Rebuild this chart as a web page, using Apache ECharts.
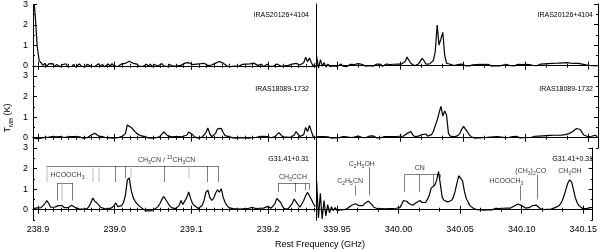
<!DOCTYPE html>
<html><head><meta charset="utf-8">
<script src="https://cdn.jsdelivr.net/npm/echarts@6/dist/echarts.min.js"></script>
<style>html,body{margin:0;padding:0;background:#fff}#c{width:600px;height:250px}</style>
</head><body><div id="c"></div>
<script>
// ---------- frequency channels ----------
const leftStart = 238.894, leftStep = 0.0025;     // GHz
const rightStart = 339.9335, rightStep = 0.0015;  // GHz
const leftRange = [238.8935, 239.2625];
const rightRange = [339.9330, 340.1576];
const leftTicks = [238.9, 239.0, 239.1, 239.2];
const rightTicks = [339.95, 340.00, 340.05, 340.10, 340.15];
const yTickLabels = [0, 1, 2, 3];
const sourceNames = ['IRAS20126+4104', 'IRAS18089-1732', 'G31.41+0.31'];

// ---------- spectra (T_MB in K) ----------
const iras20126Left = [3.6,2.4,0.95,0.25,0.15,0.02,0.12,-0.03,0.09,0.0,
0.11,-0.04,0.06,0.1,-0.05,0.05,0.0,0.1,-0.04,0.04,
-0.03,0.07,-0.06,0.03,0.09,-0.02,0.06,-0.05,0.07,0.1,
-0.01,0.08,-0.04,0.05,0.1,-0.03,0.07,-0.05,0.04,0.09,
-0.01,0.1,0.0,0.07,-0.04,0.05,0.09,0.01,0.12,0.16,
0.22,0.15,0.12,0.03,0.08,-0.02,0.07,-0.03,0.05,0.08,
-0.02,0.08,-0.05,0.06,0.1,-0.01,0.07,0.11,0.0,0.08,
-0.04,0.06,0.1,-0.01,0.07,0.0,0.09,0.02,0.11,0.13,
0.17,0.15,0.13,0.06,0.0,0.08,0.01,0.1,0.03,0.12,
0.05,0.01,0.1,0.04,0.12,0.13,0.19,0.21,0.16,0.13,
0.04,-0.01,0.07,-0.04,0.05,-0.01,0.08,-0.03,0.04,0.07,
-0.02,0.08,0.0,0.09,0.07,0.13,0.06,0.02,-0.02,0.07,
-0.03,0.05,0.08,-0.02,0.07,-0.03,0.04,0.09,0.01,-0.01,
0.07,0.0,0.08,0.02,0.1,0.08,0.14,0.12,0.12,0.04,
0.07,0.15,0.42,0.2,0.38,0.15,-0.02,0.12];
const iras20126Right = [0.45,-0.12,0.3,-0.02,0.15,-0.06,0.08,-0.03,0.06,-0.01,
0.07,-0.03,0.05,0.08,-0.02,0.06,-0.04,0.05,0.07,-0.01,
0.06,0.09,0.1,0.04,0.07,0.02,-0.02,0.06,0.0,0.07,
-0.02,0.06,0.08,-0.01,0.07,-0.03,0.05,0.08,0.0,0.06,
-0.02,0.07,0.01,0.08,0.03,0.08,0.1,0.2,0.42,0.35,
0.12,0.04,0.0,0.07,0.08,0.15,0.36,0.25,0.08,0.03,
0.09,0.12,0.25,0.7,1.98,1.0,0.95,1.62,0.5,0.12,
0.04,0.07,0.05,0.01,0.07,0.05,0.1,0.08,0.06,0.0,
0.07,-0.01,0.06,0.04,-0.02,0.06,0.01,0.07,-0.02,0.05,
0.0,0.07,0.01,-0.02,0.06,0.0,0.07,-0.01,0.05,0.03,
-0.02,0.05,0.07,0.0,0.06,-0.01,0.05,0.07,0.0,0.06,
0.01,0.07,0.0,0.06,0.08,0.01,0.07,0.0,0.06,0.08,
0.02,0.09,0.04,0.1,0.05,0.11,0.06,0.12,0.07,0.13,
0.08,0.14,0.09,0.15,0.13,0.12,0.17,0.11,0.16,0.11,
0.12,0.08,0.1,0.04,0.07,0.01,0.06,0.0,0.05,-0.01];
const iras18089Left = [-0.02,0.05,-0.04,0.04,-0.02,0.06,0.02,0.09,0.03,-0.01,
0.05,-0.03,0.04,-0.02,0.06,0.07,0.01,-0.02,0.04,-0.04,
0.05,-0.01,0.06,-0.03,0.04,0.07,-0.02,0.05,0.0,0.08,
0.12,0.2,0.22,0.14,0.08,0.03,0.05,0.07,0.0,0.06,
-0.01,0.05,-0.02,0.06,0.0,-0.03,0.05,0.04,0.2,0.62,
0.66,0.5,0.4,0.3,0.2,0.15,0.1,0.04,0.05,0.03,
-0.01,0.05,-0.02,0.06,0.0,0.07,0.06,0.15,0.28,0.22,
0.1,0.03,0.04,-0.02,0.05,-0.01,0.06,0.0,0.07,0.06,
0.12,0.28,0.33,0.15,0.04,0.05,-0.02,0.04,0.03,0.1,
0.25,0.47,0.2,0.05,0.08,0.2,0.43,0.35,0.45,0.25,
0.1,0.02,0.05,0.03,-0.01,0.05,-0.02,0.06,0.0,0.07,
-0.01,0.05,-0.02,0.06,0.0,0.07,0.01,-0.02,0.06,0.0,
0.07,-0.01,0.05,0.07,0.0,0.06,0.05,0.12,0.25,0.15,
0.04,0.05,0.03,0.04,0.02,0.08,0.12,0.3,0.18,0.06,
0.03,0.15,0.5,0.3,0.6,0.3,0.05,0.02];
const iras18089Right = [0.05,-0.02,0.06,-0.01,0.05,-0.03,0.04,0.06,-0.02,0.05,
-0.01,0.06,0.0,-0.03,0.05,-0.02,0.04,0.07,0.01,0.08,
0.03,0.09,0.08,0.07,0.02,0.07,0.0,0.06,0.08,0.04,
0.09,0.01,-0.01,0.06,0.0,-0.02,0.05,-0.01,0.06,0.0,
0.05,-0.02,0.06,0.0,0.07,0.02,0.07,0.1,0.2,0.25,
0.3,0.15,0.05,0.05,0.08,0.12,0.15,0.22,0.18,0.08,
0.06,0.15,0.3,0.6,0.85,1.2,1.52,1.05,1.3,1.1,
0.2,0.08,0.03,0.04,0.05,0.1,0.2,0.4,0.55,0.5,
0.3,0.15,0.05,0.04,-0.02,0.05,-0.01,0.06,0.0,0.07,
0.01,0.08,0.03,0.09,0.04,0.1,0.05,0.08,0.03,0.07,
0.0,0.07,0.01,-0.02,0.06,0.0,0.07,0.01,-0.01,0.06,
0.0,0.07,0.01,0.08,0.02,0.0,0.07,0.01,0.08,0.03,
0.09,0.04,0.1,0.05,0.11,0.06,0.12,0.07,0.12,0.09,
0.13,0.1,0.15,0.15,0.2,0.24,0.3,0.38,0.45,0.47,
0.4,0.25,0.12,0.05,0.06,0.0,0.07,0.08,0.12,0.05];
const g31Left = [0.05,0.0,0.09,0.02,0.1,0.15,0.3,0.45,0.3,0.12,
0.04,0.12,0.15,0.2,0.12,0.2,0.1,0.04,0.1,0.12,
0.22,0.2,0.1,0.02,0.03,-0.04,0.03,-0.03,0.05,0.15,
0.35,0.57,0.42,0.35,0.25,0.12,0.04,0.05,0.03,0.04,
0.05,0.1,0.2,0.33,0.15,0.12,0.2,0.35,0.7,1.45,
1.55,0.95,0.6,0.42,0.3,0.2,0.12,0.04,0.02,-0.06,
0.0,-0.06,0.02,0.01,0.08,0.15,0.3,0.5,0.64,0.55,
0.35,0.2,0.1,0.03,0.05,0.04,0.2,0.45,0.25,0.3,
0.6,0.86,0.55,0.3,0.2,0.12,0.06,0.1,0.2,0.45,
0.85,0.95,0.6,0.45,0.55,0.8,0.97,0.85,1.02,0.6,
0.35,0.2,0.1,0.03,0.05,0.01,0.04,0.0,0.03,0.02,
0.05,0.03,0.06,0.04,0.11,0.06,0.06,0.0,0.07,0.01,
0.08,0.09,0.15,0.09,0.08,0.15,0.3,0.55,0.6,0.35,
0.15,0.04,0.07,0.06,0.12,0.3,0.52,0.5,0.25,0.12,
0.2,0.45,0.68,0.85,0.9,0.5,0.3,0.15];
const g31Right = [1.4,-0.4,0.8,-0.45,0.45,-0.3,0.25,-0.15,0.15,-0.05,
0.1,-0.03,0.06,-0.01,0.07,0.0,0.08,0.08,0.15,0.22,
0.27,0.29,0.26,0.2,0.15,0.2,0.3,0.38,0.42,0.35,
0.25,0.12,0.04,0.05,0.02,0.05,0.0,0.04,0.02,0.05,
0.03,0.06,0.0,0.07,0.05,0.1,0.25,0.45,0.5,0.4,
0.3,0.25,0.22,0.25,0.35,0.42,0.45,0.35,0.3,0.35,
0.5,0.7,1.05,1.1,1.2,1.45,1.85,1.9,0.6,0.45,
0.42,0.38,0.4,0.45,0.6,0.9,1.3,1.65,1.7,1.4,
0.9,0.55,0.37,0.2,0.12,0.06,0.05,0.0,0.07,-0.01,
0.05,-0.02,0.06,0.0,0.07,-0.01,0.05,0.07,0.0,0.06,
-0.01,0.07,0.01,0.08,0.03,0.08,0.12,0.18,0.24,0.28,
0.27,0.2,0.12,0.08,0.06,0.1,0.14,0.2,0.24,0.22,
0.15,0.06,0.07,0.01,0.08,0.02,0.09,0.03,0.1,0.1,
0.12,0.18,0.28,0.45,0.7,1.0,1.3,1.45,1.35,1.0,
0.6,0.35,0.2,0.12,0.06,0.07,0.05,0.12,0.1,0.1];

// ---------- line identifications (G31.41+0.31 panels) ----------
const ch3cnBarT = 2.12;
const ch3cnBlackFreq = [239.0013, 239.0138, 239.0647, 239.1207, 239.1351];
const ch3cnBlackEnd  = [1.35, 1.53, 1.35, 1.35, 1.35];
const ch3cnGreyFreq  = [238.9113, 238.9713, 238.9786, 239.0213, 239.0969];
const ch3cnGreyEnd   = [1.35, 1.35, 1.35, 1.53, 1.53];
const hcoochLBarT = 1.31;
const hcoochLBlackFreq = [238.9257, 238.9452];
const hcoochLGreyFreq = [238.9309];
const hcoochLEnd = 0.45;
const ch3cchBarT = 1.29;
const ch3cchFreq = [239.2133, 239.2351, 239.2490, 239.2537];
const ch3cchEnd = [0.86, 0.86, 0.95, 0.98];
const cnBarT = 1.7;
const cnFreq = [340.0047, 340.0172, 340.0286, 340.0339];
const cnEnd = [0.86, 0.86, 1.1, 1.55];
const singleLineFreq = [339.9649, 339.9760, 340.0986, 340.1127];
const singleLineTop  = [1.18, 2.08, 1.18, 1.7];
const singleLineEnd  = [0.7, 0.7, 0.45, 0.5];
const leftLabels = [
  ['HCOOCH{s|3}', 238.9385, 1.67],
  ['CH{s|3}CN / {p|13}CH{s|3}CN', 239.0678, 2.40],
  ['CH{s|3}CCH', 239.2324, 1.59]
];
const rightLabels = [
  ['C{s|2}H{s|5}CN', 339.9607, 1.38],
  ['C{s|2}H{s|5}OH', 339.9702, 2.24],
  ['CN', 340.0172, 2.03],
  ['HCOOCH{s|3}', 340.0875, 1.38],
  ['(CH{s|3}){s|2}CO', 340.1074, 1.88],
  ['CH{s|3}OH', 340.1392, 1.88]
];

// ---------- build ----------
const FONT = '"Liberation Sans", Arial, Helvetica, sans-serif';
const BLACK = '#000', GREY = '#aaaaaa';
const spectra = [[iras20126Left, iras20126Right], [iras18089Left, iras18089Right], [g31Left, g31Right]];

const leftMinor = [];
for (let k = 0; k <= 36; k++) if (k % 10) leftMinor.push(Math.round((238.9 + k * 0.01) * 1000) / 1000);
const rightMinor = [];
for (let k = -1; k <= 12; k++) if (k % 3) rightMinor.push(339.95 + k * 0.05 / 3);

const grids = [], xAxes = [], yAxes = [], series = [];
for (let r = 0; r < 3; r++) {
  for (let c = 0; c < 2; c++) {
    const g = r * 2 + c;
    grids.push({left: c === 0 ? 33 : 316, width: c === 0 ? 283 : 282, top: 4 + 72 * r, height: 72});
    const range = c === 0 ? leftRange : rightRange;
    const majors = c === 0 ? leftTicks : rightTicks;
    const minors = c === 0 ? leftMinor : rightMinor;
    const base = {gridIndex: g, type: 'value', min: range[0], max: range[1], splitLine: {show: false}};
    const lineOn = {show: true, lineStyle: {color: BLACK, width: 1}};
    xAxes.push(Object.assign({}, base, {position: 'bottom', axisLine: lineOn,
      axisTick: {show: true, inside: true, length: 4, customValues: majors, lineStyle: {color: BLACK}},
      axisLabel: {show: r === 2, customValues: majors, margin: 5, fontSize: 9, fontFamily: FONT, color: BLACK,
        formatter: v => c === 0 ? (+v).toFixed(1) : (+v).toFixed(2)}}));
    xAxes.push(Object.assign({}, base, {position: 'top', axisLine: lineOn,
      axisTick: {show: true, inside: true, length: 4, customValues: majors, lineStyle: {color: BLACK}},
      axisLabel: {show: false}}));
    xAxes.push(Object.assign({}, base, {position: 'bottom', axisLine: {show: false},
      axisTick: {show: true, inside: true, length: 2, customValues: minors, lineStyle: {color: BLACK}},
      axisLabel: {show: false}}));
    xAxes.push(Object.assign({}, base, {position: 'top', axisLine: {show: false},
      axisTick: {show: true, inside: true, length: 2, customValues: minors, lineStyle: {color: BLACK}},
      axisLabel: {show: false}}));
    const ybase = {gridIndex: g, type: 'value', min: -0.5, max: 3, splitLine: {show: false}};
    const outerLeft = c === 0;
    yAxes.push(Object.assign({}, ybase, {position: 'left', axisLine: lineOn,
      axisTick: {show: outerLeft, inside: true, length: 4, customValues: yTickLabels, lineStyle: {color: BLACK}},
      axisLabel: {show: outerLeft, customValues: yTickLabels, margin: 5, fontSize: 9, fontFamily: FONT, color: BLACK}}));
    yAxes.push(Object.assign({}, ybase, {position: 'right', axisLine: lineOn,
      axisTick: {show: !outerLeft, inside: true, length: 4, customValues: yTickLabels, lineStyle: {color: BLACK}},
      axisLabel: {show: false}}));
    yAxes.push(Object.assign({}, ybase, {position: 'left', axisLine: {show: false},
      axisTick: {show: outerLeft, inside: true, length: 2, customValues: [-0.5, 0.5, 1.5, 2.5], lineStyle: {color: BLACK}},
      axisLabel: {show: false}}));
    yAxes.push(Object.assign({}, ybase, {position: 'right', axisLine: {show: false},
      axisTick: {show: !outerLeft, inside: true, length: 2, customValues: [-0.5, 0.5, 1.5, 2.5], lineStyle: {color: BLACK}},
      axisLabel: {show: false}}));

    const arr = spectra[r][c];
    const start = c === 0 ? leftStart : rightStart, step = c === 0 ? leftStep : rightStep;
    series.push({type: 'line', xAxisIndex: g * 4, yAxisIndex: g * 4, symbol: 'none', clip: true,
      animation: false, silent: true, lineStyle: {color: BLACK, width: 1.2},
      data: arr.map((t, k) => [+(start + k * step).toFixed(5), t])});
  }
}

// identification lines
function seg(f1, t1, f2, t2, color, w) {
  return {coords: [[f1, t1], [f2, t2]], lineStyle: {color: color, width: w || 1}};
}
const leftLines = [];
leftLines.push(seg(ch3cnGreyFreq[0], ch3cnBarT, ch3cnBlackFreq[ch3cnBlackFreq.length - 1], ch3cnBarT, BLACK));
ch3cnBlackFreq.forEach((f, i) => leftLines.push(seg(f, ch3cnBarT, f, ch3cnBlackEnd[i], BLACK)));
ch3cnGreyFreq.forEach((f, i) => leftLines.push(seg(f, ch3cnBarT, f, ch3cnGreyEnd[i], GREY, 1.5)));
leftLines.push(seg(hcoochLBlackFreq[0], hcoochLBarT, hcoochLBlackFreq[1], hcoochLBarT, BLACK));
hcoochLBlackFreq.forEach(f => leftLines.push(seg(f, hcoochLBarT, f, hcoochLEnd, BLACK)));
hcoochLGreyFreq.forEach(f => leftLines.push(seg(f, hcoochLBarT, f, hcoochLEnd, GREY, 1.5)));
leftLines.push(seg(ch3cchFreq[0], ch3cchBarT, ch3cchFreq[ch3cchFreq.length - 1], ch3cchBarT, BLACK));
ch3cchFreq.forEach((f, i) => leftLines.push(seg(f, ch3cchBarT, f, ch3cchEnd[i], BLACK)));

const rightLines = [];
rightLines.push(seg(cnFreq[0], cnBarT, cnFreq[cnFreq.length - 1], cnBarT, BLACK));
cnFreq.forEach((f, i) => rightLines.push(seg(f, cnBarT, f, cnEnd[i], BLACK)));
singleLineFreq.forEach((f, i) => rightLines.push(seg(f, singleLineTop[i], f, singleLineEnd[i], BLACK)));

series.push({type: 'lines', coordinateSystem: 'cartesian2d', xAxisIndex: 16, yAxisIndex: 16, polyline: false,
  silent: true, animation: false, data: leftLines});
series.push({type: 'lines', coordinateSystem: 'cartesian2d', xAxisIndex: 20, yAxisIndex: 20, polyline: false,
  silent: true, animation: false, data: rightLines});

const rich = {
  s: {fontSize: 5, lineHeight: 5, verticalAlign: 'bottom', fontFamily: FONT, color: BLACK},
  p: {fontSize: 5, lineHeight: 5, verticalAlign: 'top', fontFamily: FONT, color: BLACK}
};
function labelSeries(list, gi) {
  return {type: 'scatter', xAxisIndex: gi, yAxisIndex: gi, symbolSize: 0, silent: true, animation: false,
    data: list.map(l => ({value: [l[1], l[2]], name: l[0]})),
    label: {show: true, position: 'inside', formatter: '{b}', fontSize: 7, lineHeight: 10,
      fontFamily: FONT, color: BLACK, rich: rich}};
}
series.push(labelSeries(leftLabels, 16));
series.push(labelSeries(rightLabels, 20));

// source names and axis titles
const graphics = [];
const srcY = [15, 89, 159];
sourceNames.forEach((n, r) => {
  [309, 593].forEach(x => graphics.push({type: 'text', x: x, y: srcY[r], silent: true,
    style: {text: n, fontSize: 7, fontFamily: FONT, fill: BLACK, align: 'right', verticalAlign: 'middle',
      textAlign: 'right', textVerticalAlign: 'middle'}}));
});
graphics.push({type: 'text', x: 320, y: 245, silent: true,
  style: {text: 'Rest Frequency (GHz)', fontSize: 9, fontFamily: FONT, fill: BLACK,
    align: 'center', verticalAlign: 'middle', textAlign: 'center', textVerticalAlign: 'middle'}});
graphics.push({type: 'text', x: 8, y: 118, rotation: Math.PI / 2, silent: true,
  style: {text: 'T{m|MB} (K)', fontSize: 9, fontFamily: FONT, fill: BLACK, lineHeight: 12,
    align: 'center', verticalAlign: 'middle', textAlign: 'center', textVerticalAlign: 'middle',
    rich: {m: {fontSize: 6, lineHeight: 6, verticalAlign: 'bottom', fontFamily: FONT, fill: BLACK}}}});

const chart = echarts.init(document.getElementById('c'), null, {renderer: 'canvas'});
chart.setOption({
  animation: false,
  backgroundColor: '#fff',
  grid: grids, xAxis: xAxes, yAxis: yAxes, series: series, graphic: graphics
});
</script></body></html>
